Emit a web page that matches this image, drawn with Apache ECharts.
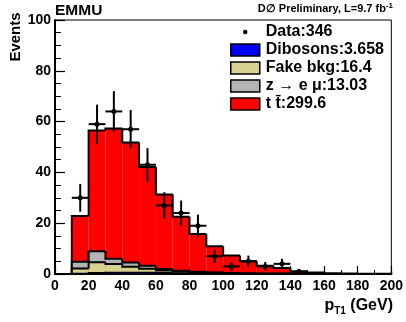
<!DOCTYPE html>
<html><head><meta charset="utf-8">
<script src="https://cdn.jsdelivr.net/npm/echarts@6/dist/echarts.min.js"></script>
<style>html,body{margin:0;padding:0;background:#fff}#c{width:406px;height:322px}</style>
</head><body><div id="c"></div>
<script>
// bin lower edges (GeV), bin width 10
const binLo = [10,20,30,40,50,60,70,80,90,100,110,120,130,140,150,160,170,180,190];
const binW = 10;
const dibosons = [0.1,0.4,0.5,0.5,0.5,0.4,0.3,0.25,0.2,0.15,0.1,0.08,0.06,0.05,0.04,0.03,0,0,0];
const fakeBkg  = [2.1,4.2,3.4,2.4,1.6,1.0,0.7,0.4,0.3,0.2,0.1,0,0,0,0,0,0,0,0];
const zEmu     = [2.6,4.4,2.1,1.6,1.1,0.6,0.3,0.2,0.1,0.03,0,0,0,0,0,0,0,0,0];
const ttbar    = [18.0,47.5,51.3,47.3,38.9,29.3,21.2,14.9,10.3,6.9,4.8,3.2,2.3,0.9,0.55,0.27,0.2,0.1,0.1];
const dataX = [15,25,35,45,55,65,75,85,95,105,115,125,135,145];
const dataN = [30,59,64,57,43,27,24,19,7,3,5,3,4,1];
const yTicks = [0,20,40,60,80,100];
const xTicks = [0,20,40,60,80,100,120,140,160,180,200];

const names = {data:'Data:346', dib:'Dibosons:3.658', fake:'Fake bkg:16.4', z:'z \u2192 e \u03bc:13.03', tt:'t t\u0304:299.6'};

function cumul(...arrs){ return binLo.map((_,i)=>arrs.reduce((s,a)=>s+a[i],0)); }
const cDib = cumul(dibosons);
const cFake = cumul(dibosons, fakeBkg);
const cZ = cumul(dibosons, fakeBkg, zEmu);
const cTot = cumul(dibosons, fakeBkg, zEmu, ttbar);

const FONT = 'Liberation Sans, Arial, Helvetica, sans-serif';

function layer(name, color, cum, z){
  return {
    type:'custom', name, z,
    itemStyle:{color, borderColor:'#000', borderWidth:1.5},
    data: cum.map((v,i)=>[binLo[i], binLo[i]+binW, v, i===0?0:cum[i-1], i===cum.length-1?1:0]),
    encode:{x:[0,1], y:2},
    renderItem(params, api){
      const x0=api.value(0), x1=api.value(1), top=api.value(2), prev=api.value(3), last=api.value(4);
      const p0=api.coord([x0,0]), p1=api.coord([x1,top]), pp=api.coord([x0,prev]);
      const children=[{type:'rect', z2:0, shape:{x:p0[0], y:p1[1], width:p1[0]-p0[0], height:p0[1]-p1[1]}, style:{fill:color}}];
      const pts=[[p0[0],pp[1]],[p0[0],p1[1]],[p1[0],p1[1]]];
      if(last) pts.push([p1[0],p0[1]]);
      children.push({type:'polyline', z2:1, shape:{points:pts}, style:{stroke:'#000', lineWidth:2, fill:null}});
      return {type:'group', children};
    }
  };
}

const chart = echarts.init(document.getElementById('c'), null, {renderer:'canvas'});
chart.setOption({
  animation:false,
  grid:{left:55, right:14, top:20, bottom:48, show:true, borderColor:'#000', borderWidth:1, backgroundColor:'transparent'},
  xAxis:{type:'value', min:xTicks[0], max:xTicks[xTicks.length-1], interval:20,
    axisLine:{lineStyle:{color:'#000', width:2}},
    axisTick:{inside:true, length:8, lineStyle:{color:'#000', width:1.2}},
    minorTick:{show:true, splitNumber:2, length:4, lineStyle:{color:'#000', width:1}},
    splitLine:{show:false},
    axisLabel:{color:'#000', fontFamily:FONT, fontWeight:'bold', fontSize:14, margin:5}},
  yAxis:{type:'value', min:yTicks[0], max:yTicks[yTicks.length-1], interval:20,
    axisLine:{show:true, lineStyle:{color:'#000', width:2}},
    axisTick:{inside:true, length:10, lineStyle:{color:'#000', width:1.2}},
    minorTick:{show:true, splitNumber:4, length:6, lineStyle:{color:'#000', width:1}},
    splitLine:{show:false},
    axisLabel:{color:'#000', fontFamily:FONT, fontWeight:'bold', fontSize:14, margin:4}},
  legend:{orient:'vertical', left:230, top:24, padding:0, itemWidth:29, itemHeight:12, itemGap:2,
    textStyle:{color:'#000', fontFamily:FONT, fontWeight:'bold', fontSize:16, lineHeight:16, padding:[0,0,0,1]},
    data:[
      {name:names.data, icon:'path://M0,0M29,0M29,12M0,12M12.2,6a2.3,2.3 0 1,0 4.6,0a2.3,2.3 0 1,0 -4.6,0z', itemStyle:{color:'#000', borderWidth:0}},
      {name:names.dib, icon:'rect', itemStyle:{borderColor:'#000', borderWidth:1.5}},
      {name:names.fake, icon:'rect', itemStyle:{borderColor:'#000', borderWidth:1.5}},
      {name:names.z, icon:'rect', itemStyle:{borderColor:'#000', borderWidth:1.5}},
      {name:names.tt, icon:'rect', itemStyle:{borderColor:'#000', borderWidth:1.5}}
    ]},
  graphic:[
    {type:'text', left:55, top:3, style:{text:'EMMU', fill:'#000', font:'bold 15.5px '+FONT}},
    {type:'text', right:13, top:2, style:{text:'D\u2205 Preliminary, L=9.7 fb{s|-1}', fill:'#000', font:'bold 11px '+FONT,
      rich:{s:{fontSize:8, fontWeight:'bold', fontFamily:FONT, padding:[0,0,6,0]}}}},
    {type:'text', x:8, y:37, rotation:Math.PI/2, style:{text:'Events', fill:'#000', font:'bold 15px '+FONT, align:'center', verticalAlign:'top'}},
    {type:'text', right:13, top:296, style:{text:'{a|p}{b|T1}{a| (GeV)}', fill:'#000',
      rich:{a:{fontSize:16, fontWeight:'bold', fontFamily:FONT, lineHeight:18},
            b:{fontSize:10, fontWeight:'bold', fontFamily:FONT, lineHeight:10, padding:[10,0,0,0]}}}}
  ],
  series:[
    layer(names.tt, '#ff0000', cTot, 2),
    layer(names.z, '#b3b3b3', cZ, 3),
    layer(names.fake, '#d6d18f', cFake, 4),
    layer(names.dib, '#0000ff', cDib, 5),
    {type:'custom', name:names.data, z:6, itemStyle:{color:'#000'},
     data: dataX.map((x,i)=>[x, dataN[i]]),
     encode:{x:0, y:1},
     renderItem(params, api){
       const x=api.value(0), n=api.value(1), e=Math.sqrt(n);
       const c=api.coord([x,n]), lo=api.coord([x,n-e]), hi=api.coord([x,n+e]);
       const l=api.coord([x-binW/2,n]), r=api.coord([x+binW/2,n]);
       const st={stroke:'#000', lineWidth:2};
       return {type:'group', children:[
         {type:'line', shape:{x1:c[0],y1:lo[1],x2:c[0],y2:hi[1]}, style:st},
         {type:'line', shape:{x1:l[0],y1:c[1],x2:r[0],y2:c[1]}, style:st},
         {type:'circle', shape:{cx:c[0],cy:c[1],r:2.5}, style:{fill:'#000'}}
       ]};
     }}
  ]
});
</script></body></html>
